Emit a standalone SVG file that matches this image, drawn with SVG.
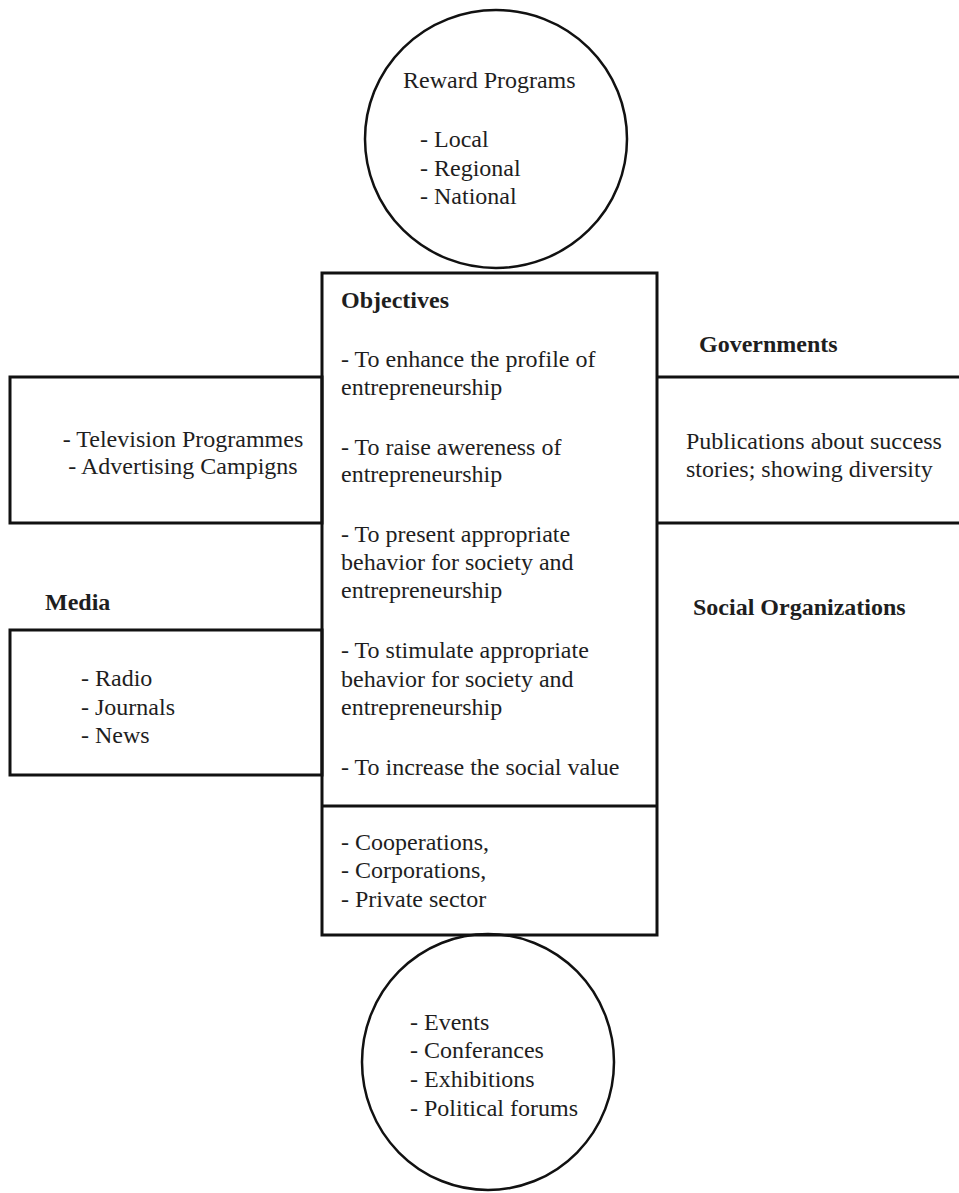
<svg xmlns="http://www.w3.org/2000/svg" width="959" height="1193" viewBox="0 0 959 1193">
<style>
.shape{fill:none;stroke:#111;stroke-width:3}
.circ{fill:none;stroke:#111;stroke-width:2.5}
text{font-family:"Liberation Serif","Times New Roman",serif;font-size:24px;fill:#1e1e1e}
.b{font-weight:bold}
.m{text-anchor:middle}
</style>
<rect width="959" height="1193" fill="#fff"/>
<g id="connectors"></g>
<g id="reward">
<ellipse class="circ" cx="496" cy="139" rx="131" ry="129"/>
<text x="403" y="88">Reward Programs</text>
<text x="420" y="147">- Local</text>
<text x="420" y="176">- Regional</text>
<text x="420" y="204">- National</text>
</g>
<g id="objectives">
<rect class="shape" x="322" y="273" width="335" height="662"/>
<line class="shape" x1="322" y1="806" x2="657" y2="806"/>
<text class="b" x="341" y="308">Objectives</text>
<text x="341" y="367">- To enhance the profile of</text>
<text x="341" y="395">entrepreneurship</text>
<text x="341" y="455">- To raise awereness of</text>
<text x="341" y="482">entrepreneurship</text>
<text x="341" y="542">- To present appropriate</text>
<text x="341" y="570">behavior for society and</text>
<text x="341" y="598">entrepreneurship</text>
<text x="341" y="658">- To stimulate appropriate</text>
<text x="341" y="687">behavior for society and</text>
<text x="341" y="715">entrepreneurship</text>
<text x="341" y="775">- To increase the social value</text>
<text x="341" y="850">- Cooperations,</text>
<text x="341" y="878">- Corporations,</text>
<text x="341" y="907">- Private sector</text>
</g>
<g id="tv">
<rect class="shape" x="10" y="377" width="312" height="146"/>
<text class="m" x="183" y="447">- Television Programmes</text>
<text class="m" x="183" y="474">- Advertising Campigns</text>
</g>
<g id="governments">
<path class="shape" d="M657 377 H962 M657 523 H962"/>
<text class="b" x="699" y="352">Governments</text>
<text x="686" y="449">Publications about success</text>
<text x="686" y="477">stories; showing diversity</text>
</g>
<g id="social">
<text class="b" x="693" y="615">Social Organizations</text>
</g>
<g id="media">
<rect class="shape" x="10" y="630" width="312" height="145"/>
<text class="b" x="45" y="610">Media</text>
<text x="81" y="686">- Radio</text>
<text x="81" y="715">- Journals</text>
<text x="81" y="743">- News</text>
</g>
<g id="events">
<ellipse class="circ" cx="488" cy="1062" rx="126" ry="128"/>
<text x="410" y="1030">- Events</text>
<text x="410" y="1058">- Conferances</text>
<text x="410" y="1087">- Exhibitions</text>
<text x="410" y="1116">- Political forums</text>
</g>
</svg>
